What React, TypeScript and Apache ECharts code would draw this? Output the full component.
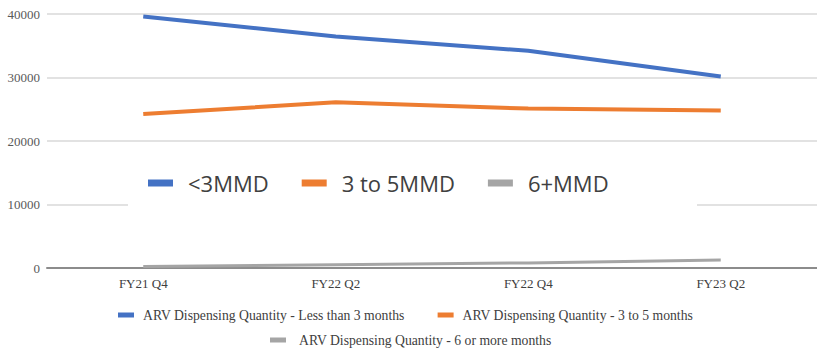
import React, { useEffect, useRef } from "react";
import * as echarts from "echarts";

const categories = ["FY21 Q4", "FY22 Q2", "FY22 Q4", "FY23 Q2"];
const lessThan3 = [39600, 36450, 34200, 30150];
const threeTo5 = [24250, 26100, 25100, 24800];
const sixPlus = [250, 500, 800, 1250];
const seriesNames = [
  "ARV Dispensing Quantity - Less than 3 months",
  "ARV Dispensing Quantity - 3 to 5 months",
  "ARV Dispensing Quantity - 6 or more months",
];
const shortNames = ["<3MMD", "3 to 5MMD", "6+MMD"];
const colors = ["#4472C4", "#ED7D31", "#A5A5A5"];

export default function App() {
  const ref = useRef<HTMLDivElement>(null);
  useEffect(() => {
    document.body.style.margin = "0";
    const chart = echarts.init(ref.current!, null, { renderer: "svg" });
    const values = [lessThan3, threeTo5, sixPlus];
    chart.setOption({
      animation: false,
      backgroundColor: "#ffffff",
      grid: { left: 47, right: -2, top: 14, bottom: 83, containLabel: false },
      xAxis: {
        type: "category",
        data: categories,
        boundaryGap: true,
        axisLine: { lineStyle: { color: "#8c8c8c", width: 2 } },
        axisTick: { show: false },
        axisLabel: {
          margin: 9,
          fontFamily: "Liberation Serif",
          fontSize: 13,
          color: "#404040",
        },
      },
      yAxis: {
        type: "value",
        min: 0,
        max: 40000,
        interval: 10000,
        axisLine: { show: false },
        axisTick: { show: false },
        splitLine: { lineStyle: { color: "#d9d9d9", width: 1.5 } },
        axisLabel: {
          margin: 7,
          fontFamily: "Liberation Serif",
          fontSize: 13,
          color: "#595959",
          formatter: (v: number) => String(v),
        },
      },
      graphic: [
        {
          type: "rect",
          shape: { x: 128, y: 158, width: 569, height: 52 },
          style: { fill: "#ffffff" },
          z: 10,
        },
      ],
      legend: [
        {
          data: seriesNames,
          left: 148,
          top: 172,
          padding: 0,
          z: 12,
          icon: "rect",
          itemWidth: 25,
          itemHeight: 7,
          itemGap: 33,
          formatter: (n: string) => shortNames[seriesNames.indexOf(n)],
          textStyle: {
            fontFamily: "Open Sans",
            fontSize: 22,
            color: "#404040",
            padding: [0, 0, 0, 10],
          },
        },
        {
          data: [seriesNames[0], seriesNames[1]],
          left: 118,
          top: 308,
          padding: 0,
          icon: "rect",
          itemWidth: 16,
          itemHeight: 5,
          itemGap: 33,
          textStyle: {
            fontFamily: "Liberation Serif",
            fontSize: 13.7,
            color: "#404040",
            padding: [0, 0, 0, 4],
          },
        },
        {
          data: [seriesNames[2]],
          left: 270,
          top: 333,
          padding: 0,
          icon: "rect",
          itemWidth: 16,
          itemHeight: 5,
          textStyle: {
            fontFamily: "Liberation Serif",
            fontSize: 13.7,
            color: "#404040",
            padding: [0, 0, 0, 8],
          },
        },
      ],
      series: seriesNames.map((name, i) => ({
        name,
        type: "line",
        data: values[i],
        symbol: "none",
        color: colors[i],
        lineStyle: { color: colors[i], width: i === 2 ? 3 : 4 },
        z: 3,
      })),
    });
    return () => chart.dispose();
  }, []);
  return (
    <div
      ref={ref}
      style={{ position: "absolute", left: 0, top: 0, width: 817, height: 351 }}
    />
  );
}
